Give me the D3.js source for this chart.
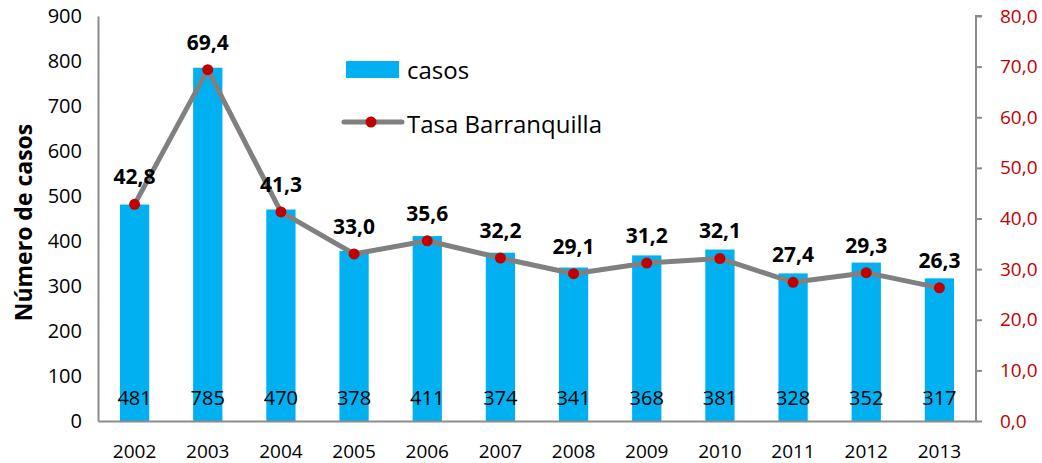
<!DOCTYPE html>
<html>
<head>
<meta charset="utf-8">
<script src="https://cdn.jsdelivr.net/npm/d3@7"></script>
<style>
  body { margin: 0; background: #fff; }
  text { font-family: "Open Sans", sans-serif; }
</style>
</head>
<body>
<svg id="chart"></svg>
<script>
const years = ["2002","2003","2004","2005","2006","2007","2008","2009","2010","2011","2012","2013"];
const casos = [481, 785, 470, 378, 411, 374, 341, 368, 381, 328, 352, 317];
const tasa = [42.8, 69.4, 41.3, 33.0, 35.6, 32.2, 29.1, 31.2, 32.1, 27.4, 29.3, 26.3];
const leftTicks = [0, 100, 200, 300, 400, 500, 600, 700, 800, 900];
const rightTicks = [0, 10, 20, 30, 40, 50, 60, 70, 80];

const W = 1042, H = 463;
const margin = {top: 16, right: 66, bottom: 42, left: 98},
  width = W - margin.left - margin.right,
  height = H - margin.top - margin.bottom;

const svg = d3.select("#chart")
  .attr("width", W)
  .attr("height", H)
  .append("g")
    .attr("transform", "translate(" + margin.left + "," + margin.top + ")");

const x = d3.scaleBand()
  .domain(years)
  .range([0, width])
  .paddingInner(0.6)
  .paddingOuter(0.3);
const y = d3.scaleLinear().domain([0, 900]).range([height, 0]);
const y2 = d3.scaleLinear().domain([0, 80]).range([height, 0]);
const cx = d => x(d) + x.bandwidth() / 2;

// bars
svg.append("g")
  .selectAll("rect")
  .data(years)
  .join("rect")
    .attr("x", d => x(d))
    .attr("width", x.bandwidth())
    .attr("y", (d, i) => y(casos[i]))
    .attr("height", (d, i) => height - y(casos[i]))
    .attr("fill", "#00b0f0");

// count labels
svg.append("g")
  .selectAll("text")
  .data(years)
  .join("text")
    .attr("x", d => cx(d))
    .attr("y", height - 16)
    .attr("text-anchor", "middle")
    .attr("font-size", 20)
    .attr("fill", "#000")
    .text((d, i) => casos[i]);

// left axis
const yAxis = d3.axisLeft(y).tickValues(leftTicks).tickSize(0).tickPadding(16);
const gl = svg.append("g").call(yAxis);
gl.select(".domain").attr("stroke", "#8c8c8c").attr("stroke-width", 2);
gl.selectAll("text").attr("font-size", 20).attr("fill", "#000").attr("font-family", "Open Sans");

// right axis
const yAxis2 = d3.axisRight(y2).tickValues(rightTicks).tickSize(6).tickPadding(18)
  .tickFormat(d => d3.format(".1f")(d).replace(".", ","));
const gr = svg.append("g")
  .attr("transform", "translate(" + width + ",0)")
  .call(yAxis2);
gr.select(".domain").attr("stroke", "#8c8c8c").attr("stroke-width", 2).attr("d", "M0," + height + "V0H6");
gr.selectAll("line").attr("stroke", "#8c8c8c").attr("stroke-width", 2);
gr.selectAll("text").attr("font-size", 19).attr("fill", "#c00000").attr("font-family", "Open Sans");

// x axis
const xAxis = d3.axisBottom(x).tickSize(0).tickPadding(24);
const gx = svg.append("g")
  .attr("transform", "translate(0," + height + ")")
  .call(xAxis);
gx.select(".domain").attr("stroke", "#8c8c8c").attr("stroke-width", 2);
gx.selectAll("text").attr("font-size", 19).attr("fill", "#000").attr("font-family", "Open Sans");

// rate line
const line = d3.line()
  .x((d, i) => cx(years[i]))
  .y(d => y2(d));
svg.append("path")
  .datum(tasa)
  .attr("fill", "none")
  .attr("stroke", "#808080")
  .attr("stroke-width", 5)
  .attr("stroke-linejoin", "round")
  .attr("d", line);

svg.append("g")
  .selectAll("circle")
  .data(tasa)
  .join("circle")
    .attr("cx", (d, i) => cx(years[i]))
    .attr("cy", d => y2(d))
    .attr("r", 5.5)
    .attr("fill", "#c00000");

svg.append("g")
  .selectAll("text")
  .data(tasa)
  .join("text")
    .attr("x", (d, i) => cx(years[i]))
    .attr("y", d => y2(d) - 20)
    .attr("text-anchor", "middle")
    .attr("font-size", 21)
    .attr("font-weight", "bold")
    .attr("fill", "#000")
    .text(d => d3.format(".1f")(d).replace(".", ","));

// y title
svg.append("text")
  .attr("transform", "rotate(-90)")
  .attr("x", -(height / 2) - 4)
  .attr("y", -66)
  .attr("text-anchor", "middle")
  .attr("font-size", 23)
  .attr("font-weight", "bold")
  .attr("fill", "#000")
  .text("Número de casos");

// legend
const legend = svg.append("g").attr("transform", "translate(" + (346 - margin.left) + "," + (61 - margin.top) + ")");
legend.append("rect")
  .attr("x", 0).attr("y", 0)
  .attr("width", 53).attr("height", 17)
  .attr("fill", "#00b0f0");
legend.append("text")
  .attr("x", 61).attr("y", 18)
  .attr("font-size", 24)
  .attr("fill", "#000")
  .text("casos");
legend.append("line")
  .attr("x1", -2).attr("x2", 56)
  .attr("y1", 61).attr("y2", 61)
  .attr("stroke", "#808080")
  .attr("stroke-width", 5)
  .attr("stroke-linecap", "round");
legend.append("circle")
  .attr("cx", 25).attr("cy", 61).attr("r", 5.5)
  .attr("fill", "#c00000");
legend.append("text")
  .attr("x", 61).attr("y", 72)
  .attr("font-size", 24)
  .attr("fill", "#000")
  .text("Tasa Barranquilla");
</script>
</body>
</html>
